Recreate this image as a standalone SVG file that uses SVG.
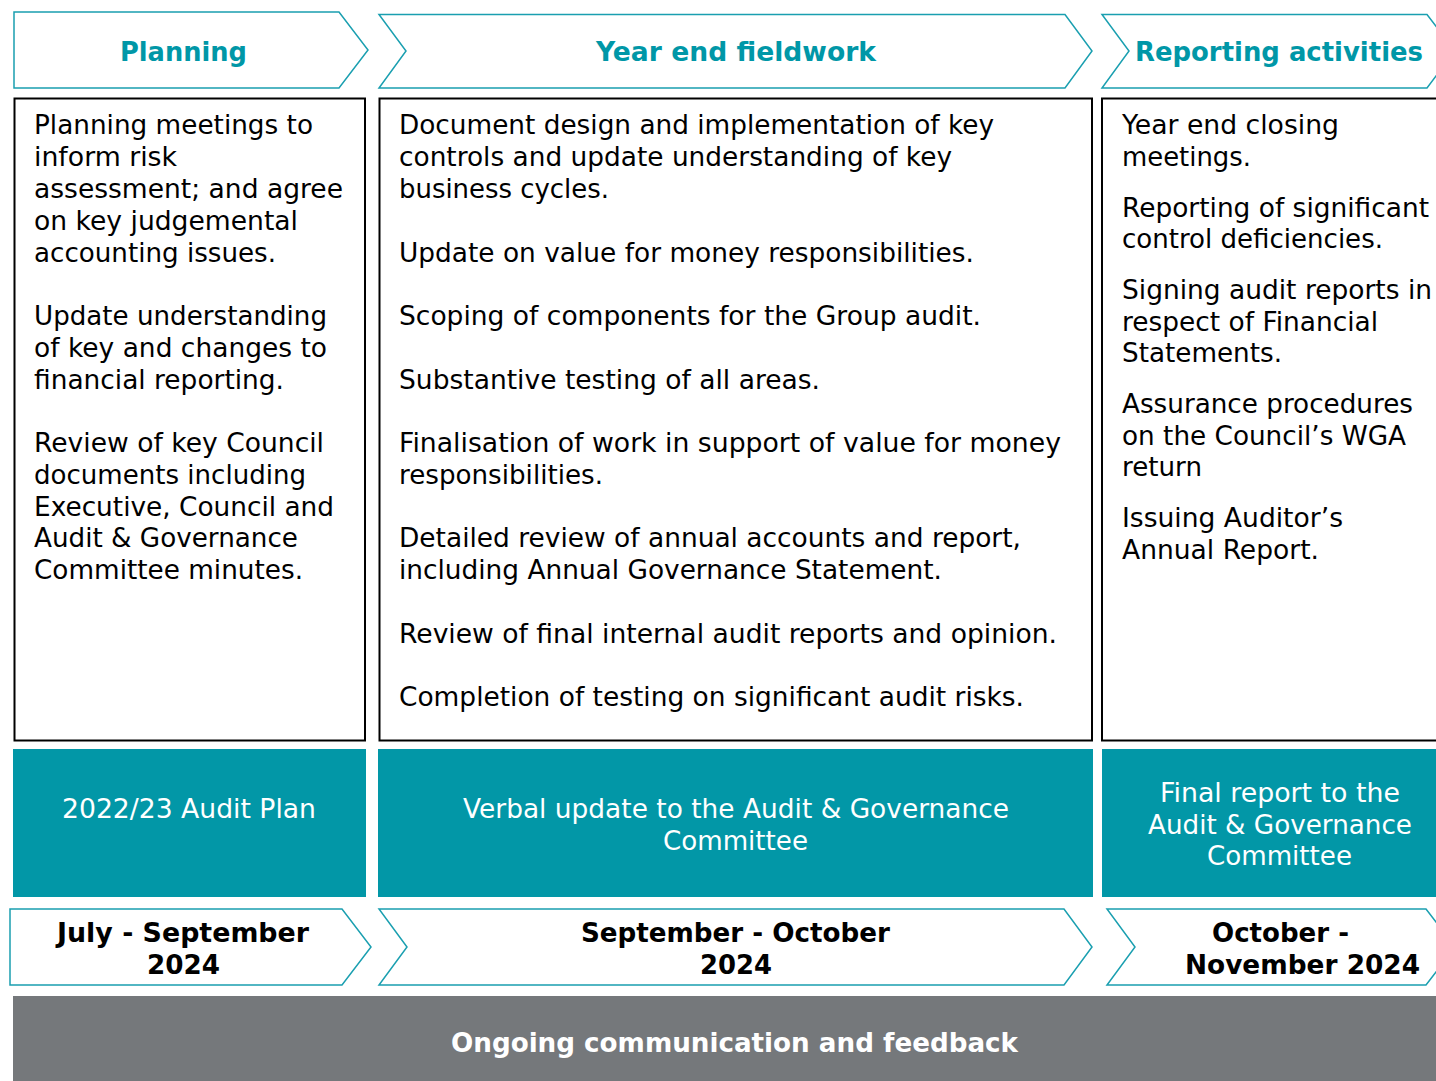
<svg xmlns="http://www.w3.org/2000/svg" width="1436" height="1081" viewBox="0 0 1436 1081">
<style>
.chev{fill:#fff;stroke:#1a9fb0;stroke-width:1.5}
.box{fill:#fff;stroke:#000;stroke-width:2}
.teal{fill:#0297a7}
.gray{fill:#75787b}
text{font-family:"DejaVu Sans",Verdana,sans-serif;font-size:26px}
.hd{font-weight:bold;fill:#0097a7;text-anchor:middle}
.bd{fill:#000}
.tw{fill:#fff;text-anchor:middle}
.dt{font-weight:bold;fill:#000;text-anchor:middle}
.gw{font-weight:bold;fill:#fff;text-anchor:middle}
</style>
<rect width="1436" height="1081" fill="#fff"/>

<g id="planning-header">
<polygon class="chev" points="14,12 339,12 368,50 339,88 14,88"/>
<text class="hd" x="183.5" y="61" textLength="127" lengthAdjust="spacingAndGlyphs">Planning</text>
</g>
<g id="fieldwork-header">
<polygon class="chev" points="379,14.5 1065,14.5 1092,51 1065,88 379,88 406,51"/>
<text class="hd" x="736" y="61" textLength="280" lengthAdjust="spacingAndGlyphs">Year end fieldwork</text>
</g>
<g id="reporting-header">
<polygon class="chev" points="1102,14.5 1427,14.5 1455,51 1427,88 1102,88 1129,51"/>
<text class="hd" x="1279" y="61" textLength="288" lengthAdjust="spacingAndGlyphs">Reporting activities</text>
</g>

<g id="planning-body">
<rect class="box" x="14.5" y="98.5" width="350.5" height="642"/>
<g class="bd">
<text x="34" y="134" textLength="279" lengthAdjust="spacingAndGlyphs">Planning meetings to</text>
<text x="34" y="166" textLength="143" lengthAdjust="spacingAndGlyphs">inform risk</text>
<text x="34" y="198" textLength="309" lengthAdjust="spacingAndGlyphs">assessment; and agree</text>
<text x="34" y="230" textLength="264" lengthAdjust="spacingAndGlyphs">on key judgemental</text>
<text x="34" y="262" textLength="242" lengthAdjust="spacingAndGlyphs">accounting issues.</text>
<text x="34" y="325" textLength="293" lengthAdjust="spacingAndGlyphs">Update understanding</text>
<text x="34" y="357" textLength="293" lengthAdjust="spacingAndGlyphs">of key and changes to</text>
<text x="34" y="389" textLength="250" lengthAdjust="spacingAndGlyphs">financial reporting.</text>
<text x="34" y="452" textLength="290" lengthAdjust="spacingAndGlyphs">Review of key Council</text>
<text x="34" y="484" textLength="272" lengthAdjust="spacingAndGlyphs">documents including</text>
<text x="34" y="516" textLength="300" lengthAdjust="spacingAndGlyphs">Executive, Council and</text>
<text x="34" y="547" textLength="264" lengthAdjust="spacingAndGlyphs">Audit &amp; Governance</text>
<text x="34" y="579" textLength="269" lengthAdjust="spacingAndGlyphs">Committee minutes.</text>
</g>
</g>

<g id="fieldwork-body">
<rect class="box" x="379.5" y="98.5" width="712.5" height="642"/>
<g class="bd">
<text x="399" y="134" textLength="595" lengthAdjust="spacingAndGlyphs">Document design and implementation of key</text>
<text x="399" y="166" textLength="553" lengthAdjust="spacingAndGlyphs">controls and update understanding of key</text>
<text x="399" y="198" textLength="210" lengthAdjust="spacingAndGlyphs">business cycles.</text>
<text x="399" y="262" textLength="575" lengthAdjust="spacingAndGlyphs">Update on value for money responsibilities.</text>
<text x="399" y="325" textLength="582" lengthAdjust="spacingAndGlyphs">Scoping of components for the Group audit.</text>
<text x="399" y="389" textLength="421" lengthAdjust="spacingAndGlyphs">Substantive testing of all areas.</text>
<text x="399" y="452" textLength="662" lengthAdjust="spacingAndGlyphs">Finalisation of work in support of value for money</text>
<text x="399" y="484" textLength="204" lengthAdjust="spacingAndGlyphs">responsibilities.</text>
<text x="399" y="547" textLength="622" lengthAdjust="spacingAndGlyphs">Detailed review of annual accounts and report,</text>
<text x="399" y="579" textLength="543" lengthAdjust="spacingAndGlyphs">including Annual Governance Statement.</text>
<text x="399" y="643" textLength="658" lengthAdjust="spacingAndGlyphs">Review of final internal audit reports and opinion.</text>
<text x="399" y="706" textLength="625" lengthAdjust="spacingAndGlyphs">Completion of testing on significant audit risks.</text>
</g>
</g>

<g id="reporting-body">
<rect class="box" x="1102" y="98.5" width="400" height="642"/>
<g class="bd">
<text x="1122" y="134" textLength="217" lengthAdjust="spacingAndGlyphs">Year end closing</text>
<text x="1122" y="166" textLength="129" lengthAdjust="spacingAndGlyphs">meetings.</text>
<text x="1122" y="217" textLength="307" lengthAdjust="spacingAndGlyphs">Reporting of significant</text>
<text x="1122" y="248" textLength="261" lengthAdjust="spacingAndGlyphs">control deficiencies.</text>
<text x="1122" y="299" textLength="310" lengthAdjust="spacingAndGlyphs">Signing audit reports in</text>
<text x="1122" y="331" textLength="256" lengthAdjust="spacingAndGlyphs">respect of Financial</text>
<text x="1122" y="362" textLength="160" lengthAdjust="spacingAndGlyphs">Statements.</text>
<text x="1122" y="413" textLength="291" lengthAdjust="spacingAndGlyphs">Assurance procedures</text>
<text x="1122" y="445" textLength="284" lengthAdjust="spacingAndGlyphs">on the Council’s WGA</text>
<text x="1122" y="476" textLength="80" lengthAdjust="spacingAndGlyphs">return</text>
<text x="1122" y="527" textLength="221" lengthAdjust="spacingAndGlyphs">Issuing Auditor’s</text>
<text x="1122" y="559" textLength="197" lengthAdjust="spacingAndGlyphs">Annual Report.</text>
</g>
</g>

<g id="planning-output">
<rect class="teal" x="13" y="749" width="353" height="148"/>
<text class="tw" x="189" y="818" textLength="254" lengthAdjust="spacingAndGlyphs">2022/23 Audit Plan</text>
</g>
<g id="fieldwork-output">
<rect class="teal" x="378" y="749" width="715" height="148"/>
<text class="tw" x="736" y="818" textLength="546" lengthAdjust="spacingAndGlyphs">Verbal update to the Audit &amp; Governance</text>
<text class="tw" x="735.5" y="850" textLength="145" lengthAdjust="spacingAndGlyphs">Committee</text>
</g>
<g id="reporting-output">
<rect class="teal" x="1102" y="749" width="340" height="148"/>
<text class="tw" x="1280" y="802" textLength="240" lengthAdjust="spacingAndGlyphs">Final report to the</text>
<text class="tw" x="1280" y="834" textLength="264" lengthAdjust="spacingAndGlyphs">Audit &amp; Governance</text>
<text class="tw" x="1279.5" y="865" textLength="145" lengthAdjust="spacingAndGlyphs">Committee</text>
</g>

<g id="planning-dates">
<polygon class="chev" points="10,909 342,909 371,947 342,985 10,985"/>
<text class="dt" x="183" y="942" textLength="252" lengthAdjust="spacingAndGlyphs">July - September</text>
<text class="dt" x="183.5" y="974" textLength="73" lengthAdjust="spacingAndGlyphs">2024</text>
</g>
<g id="fieldwork-dates">
<polygon class="chev" points="379,909 1064,909 1092,947 1064,985 379,985 407,947"/>
<text class="dt" x="735.5" y="942" textLength="309" lengthAdjust="spacingAndGlyphs">September - October</text>
<text class="dt" x="736" y="974" textLength="72" lengthAdjust="spacingAndGlyphs">2024</text>
</g>
<g id="reporting-dates">
<polygon class="chev" points="1107,909 1426,909 1455,947 1426,985 1107,985 1135,947"/>
<text class="dt" x="1280.5" y="942" textLength="137" lengthAdjust="spacingAndGlyphs">October -</text>
<text class="dt" x="1302.5" y="974" textLength="235" lengthAdjust="spacingAndGlyphs">November 2024</text>
</g>

<g id="communication-bar">
<rect class="gray" x="13" y="996" width="1430" height="90"/>
<text class="gw" x="734.5" y="1052" textLength="567" lengthAdjust="spacingAndGlyphs">Ongoing communication and feedback</text>
</g>

<g id="connectors"/>
</svg>
